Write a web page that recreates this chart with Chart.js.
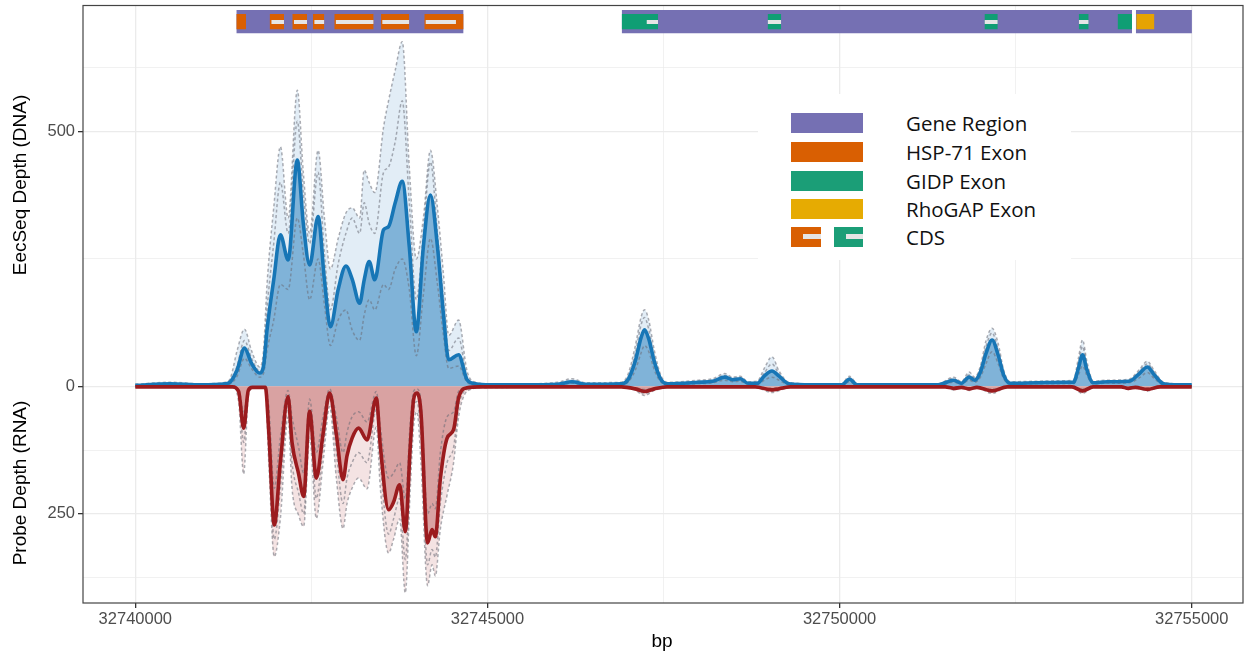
<!DOCTYPE html>
<html><head><meta charset="utf-8">
<script src="https://cdn.jsdelivr.net/npm/chart.js@4.4.0/dist/chart.umd.min.js"></script>
<style>
html,body{margin:0;padding:0;background:#fff;}
#wrap{position:relative;width:1248px;height:653px;overflow:hidden;}
canvas{position:absolute;left:0;top:0;}
.ttl{position:absolute;font-family:'Liberation Sans',Arial,sans-serif;font-size:19px;color:#000;white-space:nowrap;transform:translate(-50%,-50%) rotate(-90deg);}
.xt{position:absolute;font-family:'Liberation Sans',Arial,sans-serif;font-size:19px;color:#000;white-space:nowrap;transform:translate(-50%,-50%);}
#legend{position:absolute;left:758px;top:94px;width:313px;height:166px;background:#fff;font-family:'Open Sans',sans-serif;font-size:20.5px;color:#111;}
#legend .sw{position:absolute;height:20px;}
#legend .tx{position:absolute;left:148px;transform:translateY(-50%);white-space:nowrap;}
</style></head>
<body><div id="wrap">
<canvas id="c" width="1248" height="653"></canvas>
<div class="ttl" style="left:20px;top:185px;">EecSeq Depth (DNA)</div>
<div class="ttl" style="left:20px;top:483px;">Probe Depth (RNA)</div>
<div class="xt" style="left:662px;top:641px;">bp</div>
<div id="legend">
  <div class="sw" style="left:33px;top:19px;width:72px;background:#7570b3"></div><div class="tx" style="top:29px">Gene Region</div>
  <div class="sw" style="left:33px;top:48px;width:72px;background:#d95f02"></div><div class="tx" style="top:58px">HSP-71 Exon</div>
  <div class="sw" style="left:33px;top:77px;width:72px;background:#1b9e77"></div><div class="tx" style="top:87px">GIDP Exon</div>
  <div class="sw" style="left:33px;top:105px;width:72px;background:#e6ab02"></div><div class="tx" style="top:115px">RhoGAP Exon</div>
  <div class="sw" style="left:33px;top:133px;width:30px;background:#d95f02"></div>
  <div class="sw" style="left:45px;top:140px;width:18px;height:5px;background:#e5e5e5"></div>
  <div class="sw" style="left:76px;top:133px;width:29px;background:#1b9e77"></div>
  <div class="sw" style="left:88px;top:140px;width:17px;height:5px;background:#e5e5e5"></div>
  <div class="tx" style="top:143px">CDS</div>
</div>
</div>
<script>
// ---------- data ----------
const BASE = 32740000;   // bp offset base for position arrays

const dnaPos = [0,500,920,1280,1350,1445,1550,1650,1765,1820,1870,1965,2060,2170,2300,2385,2475,2595,2685,2770,
  2880,2990,3080,3185,3250,3320,3400,3525,3595,3690,3790,3890,3990,4090,4190,4290,4375,4450,4590,4710,4830,5040,
  5500,6000,6200,6400,6900,7000,7100,7180,7230,7290,7370,7460,7550,8000,8200,8370,8480,8590,8700,8830,
  8930,9040,9140,9280,9600,10030,10140,10250,10800,11400,11620,11730,11840,11920,12000,12080,12165,12250,12330,12420,
  12800,13200,13320,13390,13450,13510,13600,13800,14110,14250,14370,14470,14600,14800,15000];

const dnaMean = [2,5,3,5,9,32,75,45,26,39,111,209,297,248,444,320,238,333,209,117,
  190,236,210,163,209,245,209,307,313,360,402,274,107,274,375,274,141,52,62,13,5,3,
  3,4,9,4,5,14,50,95,111,93,48,14,5,8,10,18,13,15,6,6,
  20,30,20,5,3,3,14,3,3,3,12,6,18,12,28,65,91,62,22,6,
  7,8,8,35,62,33,7,9,10,24,38,22,5,3,3];

const dnaRepHigh = [4,8,5,8,16,70,112,70,38,70,200,350,470,330,581,420,300,463,330,230,
  290,340,350,330,424,400,380,509,560,620,676,430,250,330,463,350,220,100,130,30,8,5,
  5,8,15,7,8,25,80,135,150,130,70,22,8,12,15,25,18,20,9,10,
  35,58,30,8,5,5,20,5,5,5,18,9,28,18,40,90,114,85,32,9,
  10,11,12,55,91,50,10,12,14,32,49,30,8,5,4];

const dnaRepMid = [2,4,3,4,8,40,90,55,30,45,150,280,400,300,520,380,280,420,260,150,
  240,300,330,300,360,320,300,420,430,480,560,360,170,300,440,300,170,70,95,18,6,3,
  3,5,11,5,6,18,65,120,135,112,55,16,6,9,12,21,15,17,7,7,
  26,44,24,6,4,4,17,4,4,4,15,7,22,15,34,78,105,72,26,7,
  8,9,10,44,78,40,8,10,12,28,44,26,6,4,3];

const dnaRepLow = [1,3,2,3,5,20,55,35,18,25,70,130,200,190,330,260,170,250,160,80,
  130,150,110,90,140,170,150,200,190,230,250,190,60,180,290,200,100,35,40,8,3,2,
  2,3,6,3,3,9,32,65,80,68,32,9,3,5,7,12,9,10,4,4,
  12,18,12,3,2,2,9,2,2,2,8,4,12,8,18,45,68,45,15,4,
  5,5,5,22,40,22,5,6,7,16,27,15,3,2,2];

const rnaPos = [0,1377,1467,1538,1604,1661,1846,1895,1973,2059,2168,2225,2319,2390,2475,2570,2665,2759,2854,2949,
  3006,3077,3170,3290,3422,3479,3596,3667,3753,3833,3904,3951,3999,4056,4150,4213,4260,4331,4426,4519,4590,4709,4898,
  5500,6900,7100,7230,7370,7550,8800,9040,9300,11500,11620,11730,11840,11950,12165,12380,13300,13450,13600,14000,
  14100,14200,14370,14550,15000];

// RNA depth plotted downward (negative values, labelled as absolute depth)
const rnaMean = [-1,-1,-10,-82,-8,-2,-2,-90,-272,-150,-20,-110,-172,-216,-49,-180,-94,-13,-94,-183,
  -136,-102,-82,-105,-23,-117,-242,-227,-193,-285,-117,-26,-13,-52,-307,-281,-295,-182,-102,-85,-23,-3,-1,
  -1,-1,-5,-10,-5,-1,-1,-7,-1,-1,-4,-2,-5,-2,-9,-1,-1,-9,-1,-1,
  -4,-2,-6,-1,-1];

const rnaRepDeep = [-2,-2,-30,-172,-20,-4,-4,-150,-334,-260,-60,-200,-253,-275,-100,-259,-150,-40,-180,-279,
  -230,-200,-180,-201,-80,-200,-327,-300,-260,-405,-200,-80,-50,-150,-391,-350,-372,-280,-214,-150,-60,-10,-3,
  -2,-2,-8,-18,-8,-2,-2,-12,-2,-2,-7,-3,-8,-3,-14,-2,-2,-14,-2,-2,
  -6,-3,-9,-2,-2];

const rnaRepMid = [-1,-1,-15,-110,-12,-2,-2,-120,-300,-200,-40,-150,-210,-250,-70,-220,-120,-25,-130,-230,
  -180,-150,-130,-150,-45,-150,-290,-260,-220,-340,-160,-50,-30,-100,-350,-320,-335,-230,-150,-120,-40,-6,-2,
  -1,-1,-6,-14,-6,-1,-1,-9,-1,-1,-5,-2,-6,-2,-11,-1,-1,-11,-1,-1,
  -5,-2,-7,-1,-1];

const rnaRepShallow = [-1,-1,-5,-50,-5,-1,-1,-40,-200,-100,-8,-60,-120,-170,-25,-130,-60,-5,-60,-130,
  -90,-60,-50,-70,-10,-80,-180,-170,-150,-220,-70,-10,-5,-30,-250,-230,-240,-130,-60,-50,-10,-2,-1,
  -1,-1,-3,-6,-3,-1,-1,-4,-1,-1,-2,-1,-3,-1,-6,-1,-1,-6,-1,-1,
  -2,-1,-4,-1,-1];

// gene annotation track (bp offsets from BASE)
const geneRegions = [[1434,4661],[6906,14153],[14206,15003]];
const hspExons = [[1434,1572],[1907,2111],[2229,2438],[2523,2684],[2825,3384],[3489,3890],[4103,4661]];
const gidpExons = [[6906,7423],[8978,9171],[12057,12246],[13396,13537],[13947,14153]];
const rhoExons = [[14212,14470]];
const cdsParts = [[1930,2111],[2250,2438],[2540,2684],[2845,3384],[3505,3890],[4120,4553],
  [7258,7423],[8978,9171],[12057,12246],[13396,13537]];

// axis ticks
const xMajor = [32740000,32745000,32750000,32755000];
const xMinor = [32742500,32747500,32752500];
const yMajor = [-250,0,500];
const yMinor = [-375,-125,250,625];

// ---------- layout constants (not data) ----------
const X_MIN = 32739257, X_MAX = 32755728, Y_MIN = -425, Y_MAX = 747;
const BAND_REGION = [692.5,738], BAND_EXON = [700.4,730.4], BAND_CDS = [710.8,718.6];

const pts = (pos, vals) => pos.map((p,i)=>({x:BASE+p, y:vals[i]}));

function curve(pos, vals, o){
  return Object.assign({type:'line', data:pts(pos,vals), pointRadius:0, pointHoverRadius:0,
    cubicInterpolationMode:'monotone', fill:false, borderWidth:0}, o);
}
function rect(seg, band, color, order){
  return {type:'line', data:[{x:BASE+seg[0],y:band[1]},{x:BASE+seg[1],y:band[1]}],
    fill:{value:band[0]}, backgroundColor:color, borderWidth:0, pointRadius:0, tension:0, order};
}

const dashGray = 'rgba(105,108,118,0.55)';
const datasets = [
  curve(dnaPos, dnaRepHigh, {fill:'origin', backgroundColor:'#e2edf6', order:41}),
  curve(rnaPos, rnaRepDeep, {fill:'origin', backgroundColor:'#f4e3e3', order:40}),
  curve(dnaPos, dnaMean, {fill:'origin', backgroundColor:'#80b3d8', order:31}),
  curve(rnaPos, rnaMean, {fill:'origin', backgroundColor:'#d9a2a2', order:30}),
  curve(dnaPos, dnaRepHigh, {borderColor:dashGray, borderWidth:1.5, borderDash:[3,2.5], order:25}),
  curve(dnaPos, dnaRepMid, {borderColor:dashGray, borderWidth:1.5, borderDash:[3,2.5], order:24}),
  curve(dnaPos, dnaRepLow, {borderColor:dashGray, borderWidth:1.5, borderDash:[3,2.5], order:23}),
  curve(rnaPos, rnaRepDeep, {borderColor:dashGray, borderWidth:1.5, borderDash:[3,2.5], order:22}),
  curve(rnaPos, rnaRepMid, {borderColor:dashGray, borderWidth:1.5, borderDash:[3,2.5], order:21}),
  curve(rnaPos, rnaRepShallow, {borderColor:dashGray, borderWidth:1.5, borderDash:[3,2.5], order:20}),
  curve(dnaPos, dnaMean, {borderColor:'#1776b6', borderWidth:3.6, order:11}),
  curve(rnaPos, rnaMean, {borderColor:'#9b1b1e', borderWidth:3.6, order:10}),
];
geneRegions.forEach(s=>datasets.push(rect(s, BAND_REGION, '#7570b3', 3)));
hspExons.forEach(s=>datasets.push(rect(s, BAND_EXON, '#d95f02', 2)));
gidpExons.forEach(s=>datasets.push(rect(s, BAND_EXON, '#0f9e74', 2)));
rhoExons.forEach(s=>datasets.push(rect(s, BAND_EXON, '#e6a302', 2)));
cdsParts.forEach(s=>datasets.push(rect(s, BAND_CDS, '#e5e5e5', 1)));

const frame = {id:'frame', afterDraw(c){
  const a=c.chartArea, g=c.ctx; g.save(); g.strokeStyle='#444'; g.lineWidth=1.2;
  g.strokeRect(a.left, a.top, a.right-a.left, a.bottom-a.top); g.restore();
}};

Chart.defaults.font.family = "'Liberation Sans', Arial, sans-serif";
new Chart(document.getElementById('c'), {
  type:'line',
  data:{datasets},
  options:{
    responsive:false, animation:false, devicePixelRatio:1,
    layout:{padding:{top:5.5,right:5,left:0,bottom:0}},
    plugins:{legend:{display:false}, tooltip:{enabled:false}, filler:{propagate:false}},
    scales:{
      x:{type:'linear', min:X_MIN, max:X_MAX,
        afterBuildTicks:s=>{ s.ticks = [...xMajor,...xMinor].sort((a,b)=>a-b).map(v=>({value:v})); },
        ticks:{autoSkip:false, maxRotation:0, minRotation:0, color:'#4d4d4d', font:{size:16.5}, padding:2,
          callback:v=> xMajor.includes(v) ? String(v) : ''},
        grid:{color:'#ebebeb', lineWidth:c=> xMajor.includes(c.tick&&c.tick.value)?1.3:0.7,
          tickLength:5, tickColor:c=> xMajor.includes(c.tick&&c.tick.value)?'#333':'rgba(0,0,0,0)'},
        border:{display:false},
        afterFit:s=>{ s.height = 50; s.paddingLeft = 0; s.paddingRight = 0; }
      },
      y:{type:'linear', min:Y_MIN, max:Y_MAX,
        afterBuildTicks:s=>{ s.ticks = [...yMajor,...yMinor].sort((a,b)=>a-b).map(v=>({value:v})); },
        ticks:{autoSkip:false, color:'#4d4d4d', font:{size:16.5}, padding:3,
          callback:v=> yMajor.includes(v) ? String(Math.abs(v)) : ''},
        grid:{color:'#ebebeb', lineWidth:c=> yMajor.includes(c.tick&&c.tick.value)?1.3:0.7,
          tickLength:5, tickColor:c=> yMajor.includes(c.tick&&c.tick.value)?'#333':'rgba(0,0,0,0)'},
        border:{display:false},
        afterFit:s=>{ s.width = 83; s.paddingTop = 0; s.paddingBottom = 0; }
      }
    }
  },
  plugins:[frame]
});
</script>
</body></html>
